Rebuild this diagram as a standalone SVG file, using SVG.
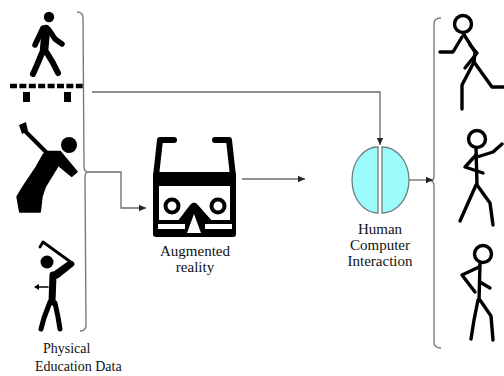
<svg xmlns="http://www.w3.org/2000/svg" width="504" height="376" viewBox="0 0 504 376">
<style>
.ln{fill:none;stroke:#6a6a6a;stroke-width:1.3}
.br{fill:none;stroke:#7a7a7a;stroke-width:1.4}
.lbl{font-family:"Liberation Serif","Times New Roman",serif;font-size:15px;fill:#111;text-anchor:middle}
.lbl14{font-family:"Liberation Serif","Times New Roman",serif;font-size:14px;fill:#111}
.limb{fill:none;stroke:#000;stroke-linecap:round;stroke-linejoin:round}
.stick{fill:none;stroke:#000;stroke-width:3.4;stroke-linecap:round;stroke-linejoin:round}
.brain{fill:#9cfbfb;stroke:#6f7f7f;stroke-width:1.3}
</style>
<defs>
<marker id="ah" markerWidth="8" markerHeight="8" refX="7" refY="4" orient="auto" markerUnits="userSpaceOnUse">
<path d="M0,0.8 L7,4 L0,7.2 Z" fill="#222"/>
</marker>
</defs>
<rect width="504" height="376" fill="#fff"/>

<!-- input data: three sport pictograms grouped by a bracket -->
<g id="walker">
<circle cx="49" cy="17" r="5.2" fill="#000"/>
<path class="limb" stroke-width="8.5" d="M46,29 L44,51"/>
<path class="limb" stroke-width="5.5" d="M43,28 L35,45"/>
<path class="limb" stroke-width="5.5" d="M49,30 L55,39 L62,44"/>
<path class="limb" stroke-width="6" d="M42,53 L37,65 L33,74"/>
<path class="limb" stroke-width="6" d="M47,53 L53,63 L58,73"/>
<line x1="10" y1="86" x2="83" y2="86" stroke="#000" stroke-width="4.5" stroke-dasharray="7 2.4"/>
<rect x="23" y="92" width="7" height="10" fill="#000"/>
<rect x="64" y="92" width="7" height="10" fill="#000"/>
</g>

<g id="golfer">
<circle cx="69" cy="145" r="8" fill="#000"/>
<path class="limb" stroke-width="4" d="M23,129 L46,152"/>
<polygon points="19,125 26,122 28,131 22,134" fill="#000"/>
<path fill="#000" stroke="#000" stroke-width="2" stroke-linejoin="round" d="M46.7,151.7 L60,151.7 L76.7,171.7 L71.7,176 L58.3,165 L45,186.7 L41.7,196.7 L40,211.7 L20,211.7 L17.3,196.7 L23.3,186.7 L36.7,166.7 L43.3,155 Z"/>
</g>

<g id="swinger">
<circle cx="47" cy="262" r="6.5" fill="#000"/>
<path class="limb" stroke-width="2.8" d="M40,247 L43,242 L72,263"/>
<path class="limb" stroke-width="5" d="M72,264 L57,276"/>
<path class="limb" stroke-width="4.5" d="M68,264 L54,274"/>
<path class="limb" stroke-width="7" d="M53,275 L52,302"/>
<path class="limb" stroke-width="1.6" d="M48,287 L38,287"/>
<path d="M34,287 L39,284 L39,290 Z" fill="#000"/>
<path class="limb" stroke-width="5" d="M50,302 L44,318 L41,329"/>
<path class="limb" stroke-width="5" d="M55,303 L58,317 L60,329"/>
</g>

<path class="br" d="M77,12 Q83,12 83,18 L84,166 Q84,172 88,172 Q85,172 85,178 L86,325 Q86,331 80,331"/>

<g class="lbl14" id="data-label">
<text x="43" y="353">Physical</text>
<text x="35" y="371">Education Data</text>
</g>

<!-- augmented reality headset -->
<g id="ar">
<path class="limb" stroke-width="6" d="M174,140 L160,140 L156,176"/>
<path class="limb" stroke-width="6" d="M215,140 L229,140 L233,176"/>
<rect x="153" y="172" width="83" height="65" rx="3" fill="#000"/>
<rect x="159" y="186" width="71" height="34" fill="#fff"/>
<rect x="158" y="224" width="27" height="5" fill="#fff"/>
<rect x="205" y="224" width="27" height="5" fill="#fff"/>
<path d="M177,222 L190,205 Q194,200 198,205 L213,222 Z" fill="#000"/>
<path d="M187,233 L194,214 L201,233 Z" fill="#fff"/>
<circle cx="172" cy="206" r="6.5" fill="#fff" stroke="#000" stroke-width="4"/>
<circle cx="218" cy="206" r="6.5" fill="#fff" stroke="#000" stroke-width="4"/>
<text class="lbl" x="195" y="256">Augmented</text>
<text class="lbl" x="195" y="272">reality</text>
</g>

<!-- human computer interaction -->
<g id="hci">
<path class="brain" d="M378,147 A26,33 0 0 0 378,213 Z"/>
<path class="brain" d="M382,147 A27,33 0 0 1 382,213 Z"/>
<text class="lbl" x="380" y="234">Human</text>
<text class="lbl" x="380" y="250">Computer</text>
<text class="lbl" x="380" y="266">Interaction</text>
</g>

<!-- output: stick figures -->
<path class="br" d="M441,18 Q434,18 434,24 L434,175 Q434,181 431,181 Q434,181 434,187 L434,342 Q434,348 441,348"/>

<g id="runner">
<circle class="stick" cx="463" cy="24" r="8.5"/>
<path class="stick" d="M463,33 L475,52 L474,62"/>
<path class="stick" d="M462,37 L453,52 L440,52"/>
<path class="stick" d="M470,45 L477,53 L465,68"/>
<path class="stick" d="M474,62 L492,87 L503,87"/>
<path class="stick" d="M474,62 L462,85 L462,109"/>
</g>

<g id="dancer">
<circle class="stick" cx="477" cy="139" r="8.5"/>
<path class="stick" d="M476,148 L477,185"/>
<path class="stick" d="M477,157 L493,152 L502,144"/>
<path class="stick" d="M476,155 L465,167 L483,173"/>
<path class="stick" d="M476,185 L460,221"/>
<path class="stick" d="M477,185 L490,203 L493,225"/>
</g>

<g id="stander">
<circle class="stick" cx="483" cy="254" r="8.5"/>
<path class="stick" d="M480,263 L479,301"/>
<path class="stick" d="M479,267 L462,275 L475,292"/>
<path class="stick" d="M480,282 L490,288"/>
<path class="stick" d="M478,300 L474,320 L471,339"/>
<path class="stick" d="M480,300 L491,316 L493,340"/>
</g>

<g id="connectors">
<path class="ln" d="M92,92 H380 V145" marker-end="url(#ah)"/>
<path class="ln" d="M88,172 H121 V208 H146" marker-end="url(#ah)"/>
<path class="ln" d="M242,179 H305" marker-end="url(#ah)"/>
<path class="ln" d="M409,180 H433" marker-end="url(#ah)"/>
</g>
</svg>
